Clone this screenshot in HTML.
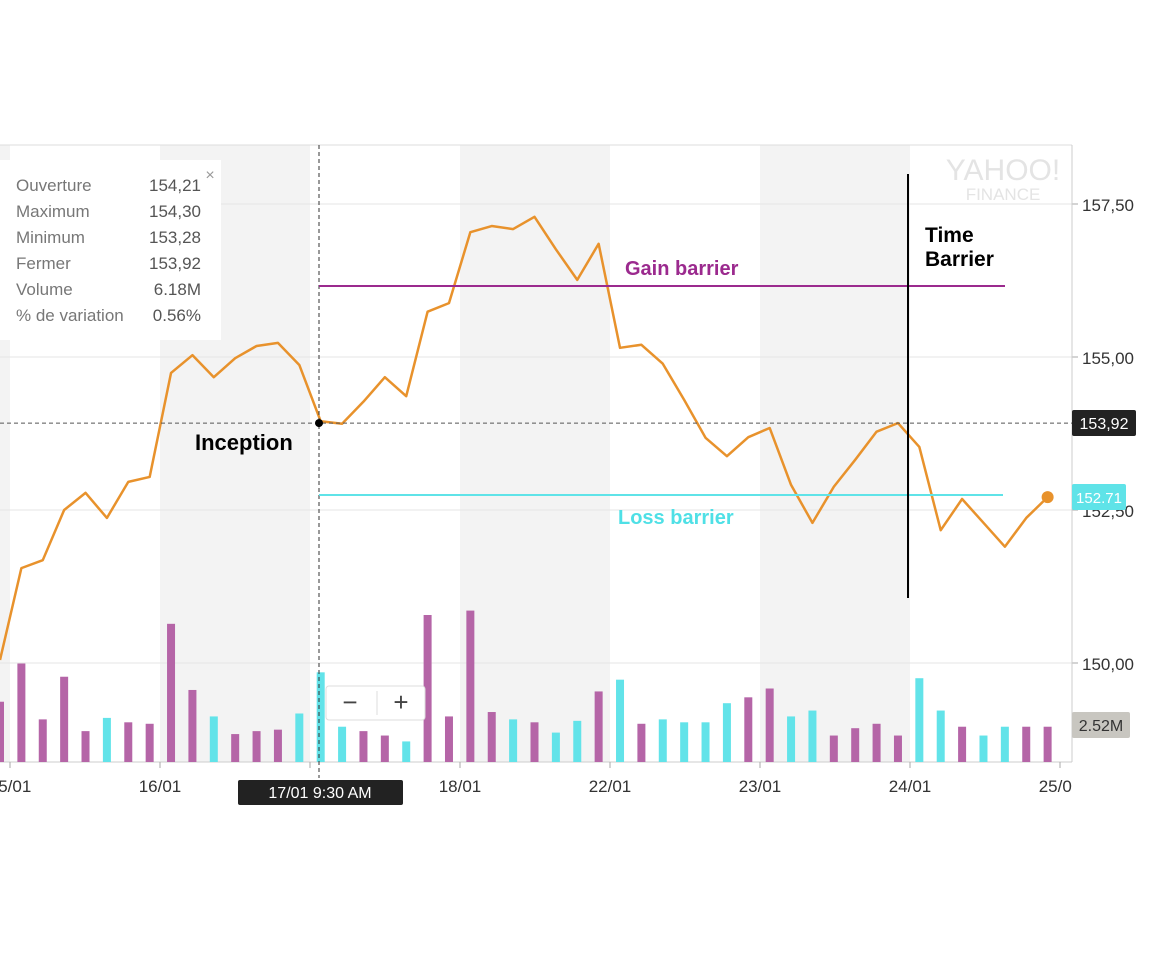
<!DOCTYPE html>
<html><head><meta charset="utf-8"><style>
body{margin:0;background:#fff;font-family:"Liberation Sans",sans-serif}
svg text{font-family:"Liberation Sans",sans-serif}
</style></head><body>
<svg id="chart" width="1152" height="960" xmlns="http://www.w3.org/2000/svg">
<defs><clipPath id="xclip"><rect x="0" y="760" width="1072" height="60"/></clipPath></defs>
<g id="bands"></g><g id="grid"></g><g id="xl" clip-path="url(#xclip)"></g><g id="vol"></g>
<g id="over"></g>
</svg>
<script>
const dateLabels=["15/01","16/01","17/01","18/01","22/01","23/01","24/01","25/01"];
const prices=[150.05,151.55,151.68,152.5,152.78,152.37,152.96,153.04,154.74,155.03,154.67,154.98,155.18,155.23,154.87,153.95,153.91,154.27,154.67,154.36,155.74,155.88,157.04,157.14,157.09,157.29,156.76,156.26,156.85,155.15,155.2,154.89,154.3,153.68,153.38,153.69,153.84,152.91,152.29,152.88,153.32,153.78,153.92,153.53,152.17,152.68,152.29,151.9,152.37,152.71];
const volumes=[4.1,6.7,2.9,5.8,2.1,3.0,2.7,2.6,9.4,4.9,3.1,1.9,2.1,2.2,3.3,6.1,2.4,2.1,1.8,1.4,10.0,3.1,10.3,3.4,2.9,2.7,2.0,2.8,4.8,5.6,2.6,2.9,2.7,2.7,4.0,4.4,5.0,3.1,3.5,1.8,2.3,2.6,1.8,5.7,3.5,2.4,1.8,2.4,2.4,2.4];
const volColors=["p","p","p","p","p","c","p","p","p","p","c","p","p","p","c","c","c","p","p","c","p","p","p","p","c","p","c","c","p","c","p","c","c","c","c","p","p","c","c","p","p","p","p","c","c","p","c","c","p","p"];
const priceTicks=[157.5,155,152.5,150];
const NS="http://www.w3.org/2000/svg";
const xOf=i=>i*21.38;
const yOf=p=>357-(p-155)*61.2;
const vOf=v=>762-v*14.7;
const dX=i=>10+i*150;
function mk(parent,tag,attrs,name,txt){const e=document.createElementNS(NS,tag);for(const k in attrs)e.setAttribute(k,attrs[k]);


if(txt!==undefined)e.textContent=txt;document.getElementById(parent).appendChild(e);return e;}
mk('bands','rect',{x:0,y:145,width:10,height:617,fill:'#f3f3f3'},'shade-band');
[1,3,5].forEach(i=>mk('bands','rect',{x:dX(i),y:145,width:150,height:617,fill:'#f3f3f3'},'shade-band'));
mk('grid','line',{x1:0,y1:145,x2:1072,y2:145,stroke:'#ddd'},'top-border');
priceTicks.forEach(t=>{mk('grid','line',{x1:0,y1:yOf(t),x2:1072,y2:yOf(t),stroke:'#e6e6e6'},'grid-line');
mk('grid','line',{x1:1072,y1:yOf(t),x2:1078,y2:yOf(t),stroke:'#aaa'},'y-tick');
mk('grid','text',{x:1082,y:yOf(t)+7,'font-size':17,fill:'#333'},'y-tick-label',t.toFixed(2).replace('.',','));});
mk('grid','line',{x1:1072,y1:145,x2:1072,y2:762,stroke:'#ccc'},'y-axis');
mk('grid','line',{x1:0,y1:762,x2:1072,y2:762,stroke:'#ccc'},'x-axis');
dateLabels.forEach((d,i)=>{mk('grid','line',{x1:dX(i),y1:762,x2:dX(i),y2:768,stroke:'#aaa'},'x-tick');
mk('xl','text',{x:dX(i),y:792,'font-size':17,fill:'#333','text-anchor':'middle'},'x-tick-label',d);});
volumes.forEach((v,i)=>mk('vol','rect',{x:xOf(i)-4,y:vOf(v),width:8,height:762-vOf(v),fill:volColors[i]=='p'?'#b565a7':'#62e3e9'},'volume-bar'));
mk('over','polyline',{points:prices.map((p,i)=>xOf(i)+','+yOf(p)).join(' '),fill:'none',stroke:'#e8922c','stroke-width':2.5,'stroke-linejoin':'round'},'price-line');
const L=prices.length-1;
mk('over','circle',{cx:xOf(L),cy:yOf(prices[L]),r:6,fill:'#e8922c'},'last-price-dot');
mk('over','line',{x1:319,y1:145,x2:319,y2:778,stroke:'#333','stroke-dasharray':'4,3'},'crosshair-vertical');
mk('over','line',{x1:0,y1:yOf(153.92),x2:1072,y2:yOf(153.92),stroke:'#555','stroke-dasharray':'4,3'},'crosshair-horizontal');
mk('over','circle',{cx:319,cy:yOf(153.92),r:4,fill:'#000'},'inception-dot');
mk('over','line',{x1:319,y1:286,x2:1005,y2:286,stroke:'#9b2a8e','stroke-width':2},'gain-barrier-line');
mk('over','text',{x:625,y:275,'font-size':20,'font-weight':'bold',fill:'#9b2a8e'},'gain-barrier-label','Gain barrier');
mk('over','line',{x1:319,y1:495,x2:1003,y2:495,stroke:'#5fe3e8','stroke-width':2},'loss-barrier-line');
mk('over','text',{x:618,y:524,'font-size':20,'font-weight':'bold',fill:'#4fe0e6'},'loss-barrier-label','Loss barrier');
mk('over','line',{x1:908,y1:174,x2:908,y2:598,stroke:'#000','stroke-width':2},'time-barrier-line');
mk('over','text',{x:925,y:242,'font-size':21,'font-weight':'bold',fill:'#000'},'time-barrier-label','Time');
mk('over','text',{x:925,y:266,'font-size':21,'font-weight':'bold',fill:'#000'},'time-barrier-label','Barrier');
mk('over','text',{x:195,y:450,'font-size':22,'font-weight':'bold',fill:'#000'},'inception-label','Inception');
mk('over','text',{x:1003,y:180,'font-size':30,fill:'#e4e4e4','text-anchor':'middle'},'yahoo-watermark','YAHOO!');
mk('over','text',{x:1003,y:200,'font-size':17,fill:'#e4e4e4','text-anchor':'middle','font-family':'Liberation Serif'},'finance-watermark','FINANCE');
mk('over','rect',{x:1072,y:410,width:64,height:26,rx:2,fill:'#222'},'price-tag');
mk('over','text',{x:1104,y:429,'font-size':16,fill:'#fff','text-anchor':'middle'},'price-tag-text','153,92');
mk('over','rect',{x:1072,y:484,width:54,height:26,rx:2,fill:'#5fe3e8'},'last-price-tag');
mk('over','text',{x:1099,y:503,'font-size':15,fill:'#fff','text-anchor':'middle'},'last-price-tag-text','152.71');
mk('over','rect',{x:1072,y:712,width:58,height:26,rx:2,fill:'#c8c6c0'},'volume-tag');
mk('over','text',{x:1101,y:731,'font-size':16,fill:'#333','text-anchor':'middle'},'volume-tag-text','2.52M');
mk('over','rect',{x:238,y:780,width:165,height:25,rx:2,fill:'#222'},'date-tooltip');
mk('over','text',{x:320,y:798,'font-size':16,fill:'#fff','text-anchor':'middle'},'date-tooltip-text','17/01 9:30 AM');
mk('over','rect',{x:0,y:160,width:221,height:180,fill:'#fff'},'info-box');
mk('over','text',{x:210,y:180,'font-size':16,fill:'#999','text-anchor':'middle'},'info-close','×');
const rows=[["Ouverture","154,21"],["Maximum","154,30"],["Minimum","153,28"],["Fermer","153,92"],["Volume","6.18M"],["% de variation","0.56%"]];
rows.forEach((r,i)=>{mk('over','text',{x:16,y:191+i*26,'font-size':17,fill:'#777'},'info-label',r[0]);
mk('over','text',{x:201,y:191+i*26,'font-size':17,fill:'#555','text-anchor':'end'},'info-value',r[1]);});
const zb=mk('over','rect',{x:326,y:686,width:99,height:34,rx:3,fill:'#fff',stroke:'#ddd'},'zoom-controls');

const zo=mk('over','text',{x:350,y:711,'font-size':26,fill:'#444','text-anchor':'middle'},'zoom-out-button','−');

mk('over','line',{x1:377,y1:691,x2:377,y2:715,stroke:'#ddd'},'zoom-divider');
const zi=mk('over','text',{x:401,y:711,'font-size':26,fill:'#444','text-anchor':'middle'},'zoom-in-button','+');

</script>
</body></html>
